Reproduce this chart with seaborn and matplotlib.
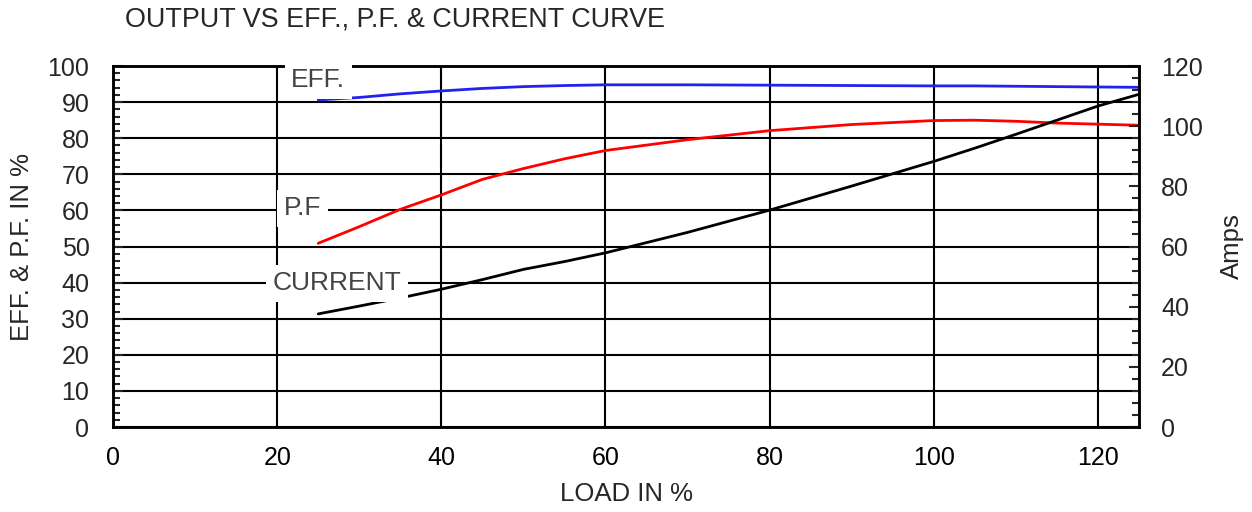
import numpy as np
import pandas as pd
import matplotlib
matplotlib.use("Agg")
import matplotlib.pyplot as plt
from matplotlib.ticker import MultipleLocator
import seaborn as sns

# values
load = [25, 30, 35, 40, 45, 50, 55, 60, 70, 80, 90, 100, 105, 110, 115, 120, 125]
eff = [90.6, 91.3, 92.3, 93.1, 93.8, 94.3, 94.6, 94.8, 94.8, 94.7, 94.6, 94.5, 94.5, 94.4, 94.3, 94.2, 94.1]
pf = [50.9, 55.5, 60.3, 64.3, 68.6, 71.6, 74.3, 76.6, 79.6, 82.1, 83.8, 84.9, 85.0, 84.7, 84.2, 83.9, 83.6]
current = [37.6, 40.2, 42.9, 45.8, 49.0, 52.4, 55.0, 57.9, 64.7, 72.1, 80.1, 88.3, 92.7, 97.3, 102.0, 106.7, 110.6]

df = pd.DataFrame({'load': load, 'eff': eff, 'pf': pf, 'current': current})

sns.set_style("white")
plt.rcParams['font.family'] = ['Liberation Sans', 'DejaVu Sans']

fig = plt.figure(figsize=(12.52, 5.12), dpi=100)
ax = fig.add_axes([0.0903, 0.166, 0.8194, 0.705])
ax2 = ax.twinx()

sns.lineplot(data=df, x='load', y='eff', ax=ax, color='#2222ee', linewidth=2)
sns.lineplot(data=df, x='load', y='pf', ax=ax, color='#ff0000', linewidth=2)
sns.lineplot(data=df, x='load', y='current', ax=ax2, color='black', linewidth=2)

ax.set_xlim(0, 125)
ax.set_ylim(0, 100)
ax2.set_ylim(0, 120)

ax.set_xticks(range(0, 121, 20))
ax.yaxis.set_major_locator(MultipleLocator(10))
ax.yaxis.set_minor_locator(MultipleLocator(2))
ax2.yaxis.set_major_locator(MultipleLocator(20))
ax2.yaxis.set_minor_locator(MultipleLocator(4))

ax.grid(True, color='black', linewidth=1.5)
ax.set_axisbelow(True)

ax.tick_params(axis='x', length=0, labelsize=18, pad=14, colors='black')
ax.tick_params(axis='y', which='major', direction='in', length=7, width=1.5, labelsize=18, pad=17)
ax.tick_params(axis='y', which='minor', direction='in', length=5, width=1.5)
ax2.tick_params(axis='y', which='major', direction='in', length=7, width=1.5, labelsize=18, pad=16)
ax2.tick_params(axis='y', which='minor', direction='in', length=5, width=1.5)

for a in (ax, ax2):
    for s in a.spines.values():
        s.set_linewidth(1.8)
        s.set_color('black')

ax.set_xlabel('LOAD IN %', fontsize=18.5, labelpad=8)
ax.set_ylabel('EFF. & P.F. IN %', fontsize=18.5, labelpad=10)
ax2.set_ylabel('Amps', fontsize=18.5, labelpad=12)

fig.text(0.1, 0.961, 'OUTPUT VS EFF., P.F. & CURRENT CURVE', fontsize=19.4, va='center', ha='left')

# curve labels on white boxes, drawn above everything
box = dict(facecolor='white', edgecolor='none', boxstyle='square,pad=0.25')
for txt, x, y in [('EFF.', 25.0, 96.1), ('P.F', 23.1, 60.6), ('CURRENT', 27.3, 39.8)]:
    ax2.text(x, y, txt, transform=ax.transData, fontsize=19, color='#444444',
             ha='center', va='center', bbox=box, zorder=10, clip_on=False)

plt.savefig('out.png', dpi=100)
